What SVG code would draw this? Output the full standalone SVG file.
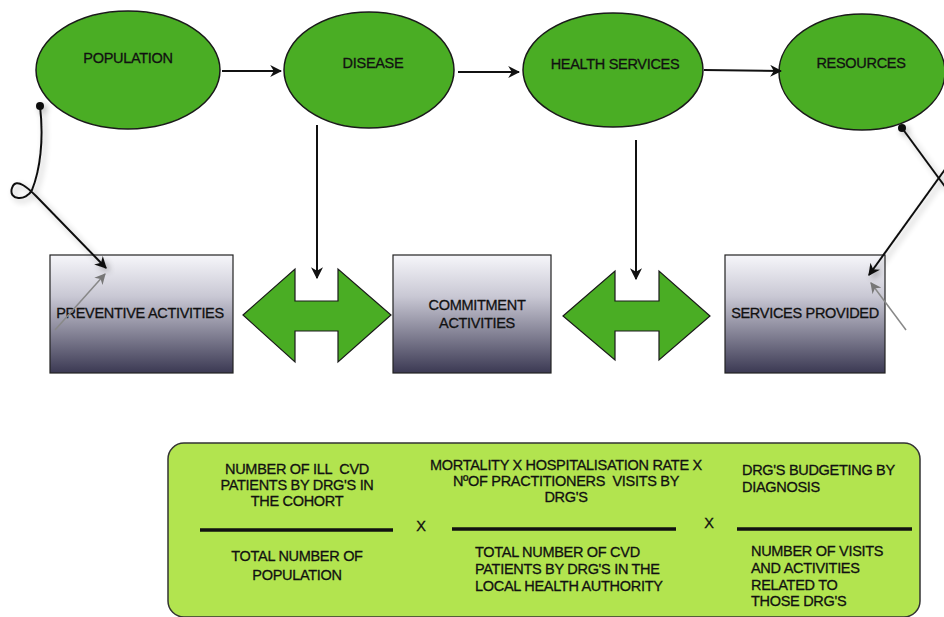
<svg xmlns="http://www.w3.org/2000/svg" width="944" height="617" viewBox="0 0 944 617">
<style>
.ell{fill:#4aad24;stroke:#1a1a1a;stroke-width:1.5}
.box{fill:url(#g);stroke:#222;stroke-width:1.2}
.dbl{fill:#4aad24;stroke:#1a1a1a;stroke-width:1.2}
.t{font-family:"Liberation Sans",Arial,sans-serif;font-size:14.5px;fill:#111;stroke:#111;stroke-width:0.3;letter-spacing:-0.3px;white-space:pre}
.c{text-anchor:middle}
.ln{stroke:#111;stroke-width:2;fill:none}
.fl{stroke:#111;stroke-width:3.5}
.gr{stroke:#888;stroke-width:1.5;fill:none}
</style>
<defs>
<linearGradient id="g" x1="0" y1="0" x2="0" y2="1">
<stop offset="0" stop-color="#f6f6fa"/>
<stop offset="0.35" stop-color="#c9c8d4"/>
<stop offset="1" stop-color="#3b3953"/>
</linearGradient>
<marker id="a2" viewBox="0 0 10 10" refX="9" refY="5" markerWidth="12" markerHeight="12" orient="auto" markerUnits="userSpaceOnUse">
<path d="M0,0 L10,5 L0,10 L3,5 z" fill="#111"/>
</marker>
<marker id="ag" viewBox="0 0 10 10" refX="9" refY="5" markerWidth="11" markerHeight="11" orient="auto" markerUnits="userSpaceOnUse">
<path d="M0,0 L10,5 L0,10 L3,5 z" fill="#777"/>
</marker>
<filter id="sh" x="-20%" y="-20%" width="140%" height="140%">
<feGaussianBlur in="SourceAlpha" stdDeviation="3"/>
<feOffset dx="3" dy="3" result="b"/>
<feComponentTransfer><feFuncA type="linear" slope="0.3"/></feComponentTransfer>
<feMerge><feMergeNode/><feMergeNode in="SourceGraphic"/></feMerge>
</filter>
</defs>
<rect width="944" height="617" fill="#fff"/>

<g id="population"><ellipse class="ell" cx="128" cy="70" rx="92" ry="59"/><text class="t c" x="128" y="63">POPULATION</text></g>
<g id="disease"><ellipse class="ell" cx="369" cy="70" rx="85" ry="58"/><text class="t c" x="373" y="68">DISEASE</text></g>
<g id="health-services"><ellipse class="ell" cx="613" cy="70" rx="90" ry="57"/><text class="t c" x="615" y="69">HEALTH SERVICES</text></g>
<g id="resources"><ellipse class="ell" cx="862" cy="72" rx="83" ry="58"/><text class="t c" x="861" y="68">RESOURCES</text></g>

<g id="preventive-activities"><rect class="box" x="50" y="255" width="183" height="118"/><text class="t c" x="140" y="318">PREVENTIVE ACTIVITIES</text></g>
<g id="commitment-activities"><rect class="box" x="393" y="255" width="158" height="118"/><text class="t c" x="477" y="310">COMMITMENT</text><text class="t c" x="477" y="328">ACTIVITIES</text></g>
<g id="services-provided"><rect class="box" x="725" y="255" width="160" height="118"/><text class="t c" x="805" y="318">SERVICES PROVIDED</text></g>

<g id="double-arrow-left"><polygon class="dbl" points="243,315 295,269 295,301 338,301 338,269 391,315 338,362 338,331 295,331 295,362"/></g>
<g id="double-arrow-right"><polygon class="dbl" points="563,316 615,271 615,301 659,301 659,271 710,316 659,360 659,331 615,331 615,360"/></g>

<g id="connectors">
<line class="ln" x1="222" y1="71" x2="281" y2="71" marker-end="url(#a2)"/>
<line class="ln" x1="458" y1="72" x2="519" y2="72" marker-end="url(#a2)"/>
<line class="ln" x1="704" y1="70" x2="781" y2="71" marker-end="url(#a2)"/>
<line class="ln" x1="317" y1="125" x2="317" y2="278" marker-end="url(#a2)"/>
<line class="ln" x1="636" y1="140" x2="636" y2="279" marker-end="url(#a2)"/>
<g filter="url(#sh)">
<circle cx="40" cy="106" r="4" fill="#111"/>
<path class="ln" d="M40,106 C44,140 40,170 32,190 C26,202 8,200 12,188 C16,176 30,190 36,196 L106,268" marker-end="url(#a2)"/>
<circle cx="902" cy="128" r="4" fill="#111"/>
<path class="ln" d="M902,128 L946,188"/>
<path class="ln" d="M946,168 L869,275" marker-end="url(#a2)"/>
</g>
<line class="gr" x1="55" y1="330" x2="105" y2="274" marker-end="url(#ag)"/>
<line class="gr" x1="906" y1="330" x2="871" y2="283" marker-end="url(#ag)"/>
</g>

<g id="formula">
<rect x="168" y="443" width="752" height="174" rx="16" fill="#b2e44f" stroke="#333" stroke-width="1.5"/>
<text class="t c" x="297" y="474">NUMBER OF ILL  CVD</text>
<text class="t c" x="297" y="490">PATIENTS BY DRG'S IN</text>
<text class="t c" x="297" y="506">THE COHORT</text>
<line class="fl" x1="200" y1="530" x2="393" y2="530"/>
<text class="t c" x="421" y="531">X</text>
<text class="t c" x="297" y="561">TOTAL NUMBER OF</text>
<text class="t c" x="297" y="580">POPULATION</text>

<text class="t c" x="566" y="470">MORTALITY X HOSPITALISATION RATE X</text>
<text class="t c" x="566" y="486">NºOF PRACTITIONERS  VISITS BY</text>
<text class="t c" x="566" y="502">DRG'S</text>
<line class="fl" x1="452" y1="529" x2="676" y2="529"/>
<text class="t" x="475" y="557">TOTAL NUMBER OF CVD</text>
<text class="t" x="475" y="574">PATIENTS BY DRG'S IN THE</text>
<text class="t" x="475" y="591">LOCAL HEALTH AUTHORITY</text>

<text class="t c" x="709" y="528">X</text>
<line class="fl" x1="737" y1="529" x2="912" y2="529"/>
<text class="t" x="742" y="475">DRG'S BUDGETING BY</text>
<text class="t" x="742" y="492">DIAGNOSIS</text>
<text class="t" x="751" y="556">NUMBER OF VISITS</text>
<text class="t" x="751" y="573">AND ACTIVITIES</text>
<text class="t" x="751" y="590">RELATED TO</text>
<text class="t" x="751" y="606">THOSE DRG'S</text>
</g>
</svg>
